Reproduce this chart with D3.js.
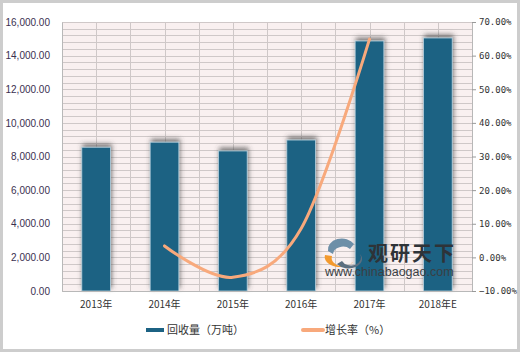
<!DOCTYPE html>
<html>
<head>
<meta charset="utf-8">
<script src="https://cdn.jsdelivr.net/npm/d3@7/dist/d3.min.js"></script>
<style>
  body { margin: 0; background: #fff; }
  svg { display: block; }
</style>
</head>
<body>
<script>
// data
var years = ["2013年", "2014年", "2015年", "2016年", "2017年", "2018年E"];
var amount = [8550, 8850, 8330, 8980, 14870, 15050];      // 回收量（万吨）
var growth = [null, 3.4, -5.9, 8.6, 64.9, null];           // 增长率（%）
var leftTicks = [0, 2000, 4000, 6000, 8000, 10000, 12000, 14000, 16000];
var rightTicks = [-10, 0, 10, 20, 30, 40, 50, 60, 70];

var w = 520, h = 352;
// plot area (window.top is reserved, so use pTop/pBottom)
var pLeft = 62, pRight = 472, pTop = 22, pBottom = 291;

var svg = d3.select("body").append("svg")
    .attr("width", w)
    .attr("height", h);

// soft grey shadow behind the bars
var defs = svg.append("defs");
var f = defs.append("filter").attr("id", "shadow")
    .attr("x", "-50%").attr("y", "-20%").attr("width", "200%").attr("height", "140%");
f.append("feGaussianBlur").attr("in", "SourceAlpha").attr("stdDeviation", 2.5).attr("result", "b");
f.append("feOffset").attr("in", "b").attr("dx", 1).attr("dy", -3).attr("result", "o");
f.append("feFlood").attr("flood-color", "#444").attr("flood-opacity", 0.7);
f.append("feComposite").attr("in2", "o").attr("operator", "in").attr("result", "s");
var fm = f.append("feMerge");
fm.append("feMergeNode").attr("in", "s");
fm.append("feMergeNode").attr("in", "SourceGraphic");

// outer frame
svg.append("rect")
    .attr("x", 1.5).attr("y", 1.5)
    .attr("width", w - 3).attr("height", h - 3)
    .attr("fill", "#fff")
    .attr("stroke", "#cdcdcd")
    .attr("stroke-width", 3);

// scales
var x = d3.scaleBand().domain(years).range([pLeft, pRight]).paddingInner(0.58).paddingOuter(0.29);
var xc = d3.scaleBand().domain(years).range([pLeft, pRight]);
var yL = d3.scaleLinear().domain([0, 16000]).range([pBottom, pTop]);
var yR = d3.scaleLinear().domain([-10, 70]).range([pBottom, pTop]);

// plot background
svg.append("rect")
    .attr("x", pLeft).attr("y", pTop)
    .attr("width", pRight - pLeft).attr("height", pBottom - pTop)
    .attr("fill", "#f9f0f0");

// grid: minor horizontal every 400, vertical every half category
var hGrid = d3.range(0, 16001, 400);
svg.append("g").selectAll("line")
    .data(hGrid).enter().append("line")
    .attr("x1", pLeft).attr("x2", pRight)
    .attr("y1", function(d) { return Math.round(yL(d)) + 0.5; })
    .attr("y2", function(d) { return Math.round(yL(d)) + 0.5; })
    .attr("stroke", "#cfc8c8").attr("stroke-width", 1);

var vGrid = d3.range(0, years.length * 2 + 1);
svg.append("g").selectAll("line")
    .data(vGrid).enter().append("line")
    .attr("x1", function(d) { return Math.round(pLeft + d * xc.bandwidth() / 2) + 0.5; })
    .attr("x2", function(d) { return Math.round(pLeft + d * xc.bandwidth() / 2) + 0.5; })
    .attr("y1", pTop).attr("y2", pBottom)
    .attr("stroke", "#cfc8c8").attr("stroke-width", 1);

// bars
svg.append("g").selectAll("rect")
    .data(amount).enter().append("rect")
    .attr("x", function(d, i) { return x(years[i]); })
    .attr("y", function(d) { return yL(d); })
    .attr("width", x.bandwidth())
    .attr("height", function(d) { return pBottom - yL(d); })
    .attr("fill", "#1c6283")
    .attr("stroke", "#b9d2de")
    .attr("stroke-width", 0.8)
    .attr("filter", "url(#shadow)");

// growth line (smoothed like Excel)
var line = d3.line()
    .defined(function(d) { return d != null; })
    .x(function(d, i) { return xc(years[i]) + xc.bandwidth() / 2; })
    .y(function(d) { return yR(d); })
    .curve(d3.curveCardinal.tension(0));

svg.append("path")
    .datum(growth)
    .attr("d", line)
    .attr("fill", "none")
    .attr("stroke", "#f8a97c")
    .attr("stroke-width", 3)
    .attr("stroke-linecap", "round");

// axes
var xAxis = d3.axisBottom(xc).tickSize(0).tickPadding(10);
var gx = svg.append("g")
    .attr("transform", "translate(0," + pBottom + ")")
    .call(xAxis);
gx.select(".domain").attr("stroke", "#b8b8b8");
gx.selectAll("text")
    .attr("font-family", "'Noto Sans CJK SC', sans-serif")
    .attr("font-size", "10px")
    .attr("fill", "#333");

var yAxisL = d3.axisLeft(yL).tickValues(leftTicks).tickSize(0).tickPadding(12)
    .tickFormat(d3.format(",.2f"));
var gl = svg.append("g")
    .attr("transform", "translate(" + pLeft + ",0)")
    .call(yAxisL);
gl.select(".domain").attr("stroke", "#b8b8b8");
gl.selectAll("text")
    .attr("font-family", "'Liberation Sans', Arial, sans-serif")
    .attr("font-size", "10px")
    .attr("fill", "#3a3050");

var yAxisR = d3.axisRight(yR).tickValues(rightTicks).tickSize(4).tickPadding(3)
    .tickFormat(function(d) { return d3.format(".2f")(d) + "%"; });
var gr = svg.append("g")
    .attr("transform", "translate(" + pRight + ",0)")
    .call(yAxisR);
gr.select(".domain").attr("stroke", "#b8b8b8");
gr.selectAll("line").attr("stroke", "#999");
gr.selectAll("text")
    .attr("font-family", "'DejaVu Sans Mono', monospace")
    .attr("font-size", "9px")
    .attr("fill", "#333");

// legend
var legend = svg.append("g").attr("font-family", "'Noto Sans CJK SC', sans-serif")
    .attr("font-size", "11px").attr("fill", "#333");
legend.append("rect").attr("x", 146).attr("y", 328).attr("width", 18).attr("height", 4).attr("fill", "#1c6283");
legend.append("text").attr("x", 167).attr("y", 334).text("回收量（万吨）");
legend.append("line").attr("x1", 303).attr("x2", 323).attr("y1", 330).attr("y2", 330)
    .attr("stroke", "#f8a97c").attr("stroke-width", 4).attr("stroke-linecap", "round");
legend.append("text").attr("x", 325).attr("y", 334).text("增长率（%）");

// watermark
var wm = svg.append("g");
wm.append("path")
    .attr("d", "M328,251 A14,11 0 0 1 354,244 L350,249 A10,8 0 0 0 333,254 Z")
    .attr("fill", "#6d8fa8");
wm.append("path")
    .attr("d", "M325,255 A15,10 0 0 0 354,260 A11,8 0 0 1 332,256 Z")
    .attr("fill", "#f39a2e");
wm.append("path")
    .attr("d", "M337,264 A13,9 0 0 0 360,254 A10,8 0 0 1 342,261 Z")
    .attr("fill", "#5c6f80");
wm.append("text")
    .attr("x", 368).attr("y", 261)
    .attr("font-family", "'Noto Sans CJK SC', sans-serif")
    .attr("font-weight", "bold")
    .attr("font-size", "20px")
    .attr("letter-spacing", "2px")
    .attr("fill", "#2e3338")
    .text("观研天下");
wm.append("text")
    .attr("x", 325).attr("y", 276)
    .attr("font-family", "'Liberation Sans', Arial, sans-serif")
    .attr("font-size", "12.5px")
    .attr("fill", "#3a3f44")
    .text("www.chinabaogao.com");
</script>
</body>
</html>
